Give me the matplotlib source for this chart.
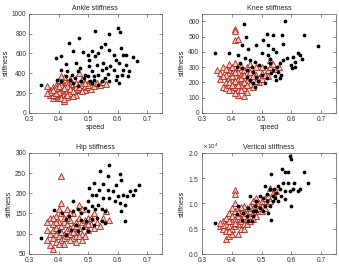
import numpy as np
import matplotlib
matplotlib.use("Agg")
from matplotlib import pyplot as plt

plt.rcParams['font.family'] = ['Liberation Sans', 'DejaVu Sans']

# Ankle stiffness
ankle_black_x = [0.34, 0.39, 0.41, 0.436, 0.47, 0.525, 0.572, 0.602, 0.607, 0.448, 0.483, 0.424, 0.407, 0.43,
                 0.459, 0.474, 0.502, 0.512, 0.535, 0.544, 0.558, 0.57, 0.587, 0.61, 0.595, 0.63, 0.651, 0.667,
                 0.63, 0.64, 0.62, 0.605, 0.606, 0.599, 0.502, 0.512, 0.53, 0.546, 0.56, 0.567, 0.535, 0.521,
                 0.546, 0.558, 0.57, 0.535, 0.5, 0.486, 0.512, 0.477, 0.456, 0.44, 0.424, 0.447, 0.41, 0.465,
                 0.448, 0.506, 0.576, 0.587, 0.525, 0.5, 0.49, 0.52, 0.552, 0.465, 0.395, 0.593, 0.614, 0.636, 0.619]
ankle_black_y = [285, 554, 577, 705, 755, 822, 799, 856, 812, 621, 614, 493, 436, 419,
                 503, 453, 537, 627, 604, 661, 695, 637, 580, 654, 537, 587, 564, 520,
                 487, 419, 436, 503, 302, 376, 470, 419, 487, 436, 453, 396, 386, 336,
                 319, 352, 319, 285, 369, 352, 302, 319, 352, 329, 369, 386, 319, 268,
                 302, 319, 470, 436, 570, 587, 386, 376, 503, 419, 336, 336, 386, 369, 587]
ankle_red_x = [0.36, 0.37, 0.37, 0.38, 0.38, 0.38, 0.39, 0.39, 0.39, 0.40, 0.40, 0.40, 0.40, 0.41, 0.41, 0.41,
               0.41, 0.42, 0.42, 0.42, 0.42, 0.42, 0.43, 0.43, 0.43, 0.43, 0.44, 0.44, 0.44, 0.44, 0.45, 0.45,
               0.45, 0.46, 0.46, 0.46, 0.47, 0.47, 0.47, 0.48, 0.48, 0.48, 0.49, 0.49, 0.50, 0.50, 0.51, 0.51,
               0.52, 0.52, 0.53, 0.54, 0.55, 0.56, 0.41, 0.40, 0.39, 0.38, 0.37, 0.43, 0.44, 0.36, 0.40, 0.42,
               0.45, 0.46, 0.41, 0.43, 0.39, 0.42, 0.44, 0.47, 0.48, 0.50, 0.49, 0.41, 0.40, 0.38, 0.43, 0.45]
ankle_red_y = [270, 230, 180, 200, 260, 150, 220, 170, 280, 190, 240, 300, 150, 210, 260, 330,
               170, 120, 230, 190, 280, 360, 200, 250, 160, 310, 220, 180, 270, 340, 200, 240,
               290, 230, 180, 260, 240, 300, 400, 250, 280, 340, 230, 270, 260, 300, 240, 280,
               270, 310, 300, 280, 310, 290, 150, 210, 250, 180, 210, 225, 200, 200, 330, 140,
               170, 300, 280, 270, 200, 250, 240, 260, 220, 280, 300, 370, 270, 230, 180, 220]

# Knee stiffness
knee_black_x = [0.344, 0.392, 0.441, 0.58, 0.517, 0.537, 0.57, 0.642, 0.689, 0.447, 0.506, 0.572, 0.433, 0.455,
                0.483, 0.523, 0.539, 0.55, 0.52, 0.528, 0.503, 0.586, 0.605, 0.622, 0.628, 0.614, 0.637, 0.6,
                0.603, 0.611, 0.572, 0.561, 0.553, 0.539, 0.528, 0.511, 0.492, 0.478, 0.461, 0.444, 0.428,
                0.417, 0.433, 0.45, 0.472, 0.483, 0.5, 0.517, 0.533, 0.544, 0.55, 0.561, 0.567, 0.556, 0.472,
                0.461, 0.489, 0.45, 0.478, 0.511, 0.467, 0.422]
knee_black_y = [390, 396, 580, 600, 520, 513, 509, 513, 437, 498, 476, 455, 444, 422,
                444, 444, 416, 400, 379, 351, 390, 357, 368, 394, 379, 336, 351, 314,
                292, 303, 347, 329, 303, 282, 325, 303, 314, 336, 347, 357, 329,
                303, 292, 282, 271, 234, 249, 227, 260, 243, 217, 227, 249, 271, 195,
                217, 206, 238, 169, 195, 303, 379]
knee_red_x = [0.41, 0.41, 0.41, 0.42, 0.35, 0.36, 0.37, 0.37, 0.38, 0.38, 0.38, 0.39, 0.39, 0.39, 0.39, 0.40,
              0.40, 0.40, 0.40, 0.41, 0.41, 0.41, 0.41, 0.42, 0.42, 0.42, 0.42, 0.43, 0.43, 0.43, 0.43, 0.44,
              0.44, 0.44, 0.44, 0.45, 0.45, 0.45, 0.45, 0.46, 0.46, 0.46, 0.47, 0.47, 0.47, 0.48, 0.48, 0.49,
              0.49, 0.50, 0.50, 0.51, 0.52, 0.52, 0.53, 0.53, 0.54, 0.55, 0.56, 0.36, 0.38, 0.40, 0.41, 0.42,
              0.43, 0.44, 0.45, 0.46, 0.39, 0.40, 0.37, 0.41, 0.42, 0.43, 0.48, 0.50, 0.44, 0.47, 0.39, 0.41]
knee_red_y = [550, 540, 480, 485, 280, 220, 170, 300, 250, 200, 160, 230, 280, 180, 320, 260,
              210, 150, 300, 240, 190, 170, 330, 270, 220, 150, 120, 250, 200, 310, 180, 230,
              280, 160, 110, 260, 210, 300, 140, 240, 190, 320, 270, 220, 170, 250, 300, 230,
              200, 260, 220, 250, 280, 240, 350, 300, 320, 290, 300, 260, 290, 240, 210, 180,
              230, 200, 180, 270, 200, 180, 240, 270, 300, 150, 210, 300, 250, 240, 150, 130]

# Hip stiffness
hip_black_x = [0.34, 0.386, 0.448, 0.502, 0.521, 0.541, 0.572, 0.567, 0.607, 0.613, 0.671, 0.595, 0.642, 0.659,
               0.653, 0.633, 0.619, 0.601, 0.584, 0.567, 0.549, 0.537, 0.526, 0.514, 0.549, 0.572, 0.59, 0.607,
               0.624, 0.613, 0.624, 0.5, 0.512, 0.524, 0.535, 0.547, 0.558, 0.5, 0.488, 0.477, 0.465, 0.448,
               0.436, 0.424, 0.413, 0.477, 0.494, 0.512, 0.529, 0.547, 0.558, 0.459, 0.442, 0.483, 0.519,
               0.401, 0.424, 0.5, 0.465]
hip_black_y = [89, 158, 182, 212, 226, 255, 271, 243, 249, 234, 220, 220, 206, 209,
               197, 193, 197, 193, 205, 209, 222, 209, 197, 197, 189, 189, 180, 176,
               170, 155, 131, 180, 168, 162, 172, 160, 155, 155, 164, 152, 160, 155,
               143, 137, 150, 135, 131, 137, 139, 132, 126, 122, 110, 114, 122,
               107, 97, 106, 106]
hip_red_x = [0.41, 0.38, 0.37, 0.36, 0.36, 0.37, 0.37, 0.38, 0.38, 0.38, 0.39, 0.39, 0.39, 0.39, 0.40, 0.40,
             0.40, 0.40, 0.41, 0.41, 0.41, 0.41, 0.42, 0.42, 0.42, 0.42, 0.43, 0.43, 0.43, 0.43, 0.44, 0.44,
             0.44, 0.45, 0.45, 0.45, 0.46, 0.46, 0.46, 0.47, 0.47, 0.47, 0.48, 0.48, 0.48, 0.49, 0.49, 0.50,
             0.50, 0.51, 0.52, 0.52, 0.53, 0.54, 0.55, 0.56, 0.57, 0.46, 0.44, 0.42, 0.40, 0.39, 0.41, 0.43,
             0.45, 0.47, 0.49, 0.51, 0.38, 0.36, 0.44, 0.46, 0.48, 0.50]
hip_red_y = [243, 62, 72, 85, 130, 100, 140, 110, 90, 125, 100, 145, 80, 115, 95, 130,
             160, 110, 85, 120, 150, 175, 100, 130, 90, 140, 110, 95, 125, 160, 100, 135,
             115, 90, 120, 150, 105, 130, 95, 115, 170, 140, 100, 130, 160, 120, 95, 140,
             110, 125, 115, 150, 130, 120, 140, 155, 135, 80, 85, 75, 75, 130, 105, 140,
             105, 95, 135, 140, 140, 110, 150, 120, 85, 125]

# Vertical stiffness (x 10^4)
vert_black_x = [0.344, 0.42, 0.511, 0.533, 0.541, 0.57, 0.578, 0.589, 0.594, 0.6, 0.641, 0.656, 0.556, 0.572,
                0.589, 0.608, 0.606, 0.622, 0.628, 0.594, 0.578, 0.561, 0.528, 0.517, 0.539, 0.55, 0.567,
                0.578, 0.556, 0.539, 0.517, 0.506, 0.494, 0.483, 0.478, 0.494, 0.511, 0.528, 0.506, 0.472,
                0.456, 0.439, 0.461, 0.472, 0.45, 0.433, 0.467, 0.533, 0.6, 0.483, 0.456, 0.522, 0.544, 0.417]
vert_black_y = [0.613, 0.947, 1.347, 1.58, 1.28, 1.68, 1.63, 1.613, 1.947, 1.88, 1.613, 1.413, 1.347, 1.413,
                1.413, 1.413, 1.28, 1.247, 1.28, 1.247, 1.247, 1.28, 1.28, 1.18, 1.147, 1.213, 1.147,
                1.08, 1.047, 1.047, 1.047, 1.113, 1.147, 1.047, 0.947, 0.913, 0.947, 0.947, 0.847, 0.847,
                0.913, 0.813, 1.147, 0.747, 0.747, 0.68, 0.647, 0.68, 0.947, 0.847, 0.647, 0.813, 1.113, 0.78]
vert_red_x = [0.41, 0.41, 0.38, 0.39, 0.36, 0.37, 0.37, 0.38, 0.38, 0.38, 0.39, 0.39, 0.40, 0.40, 0.40, 0.40,
              0.41, 0.41, 0.41, 0.41, 0.42, 0.42, 0.42, 0.42, 0.43, 0.43, 0.43, 0.44, 0.44, 0.44, 0.45, 0.45,
              0.45, 0.46, 0.46, 0.46, 0.47, 0.47, 0.47, 0.48, 0.48, 0.48, 0.49, 0.49, 0.50, 0.50, 0.51, 0.51,
              0.52, 0.52, 0.53, 0.53, 0.54, 0.55, 0.43, 0.40, 0.39, 0.37, 0.44, 0.45, 0.42, 0.41, 0.46, 0.48,
              0.50, 0.47, 0.43, 0.39, 0.44, 0.36]
vert_red_y = [1.27, 1.18, 0.30, 0.35, 0.55, 0.50, 0.65, 0.45, 0.60, 0.72, 0.55, 0.80, 0.50, 0.65, 0.75, 0.90,
              0.55, 0.70, 0.85, 1.00, 0.60, 0.75, 0.40, 0.90, 0.65, 0.80, 0.70, 0.75, 0.85, 0.60, 0.70, 0.90,
              0.80, 0.75, 0.95, 0.85, 0.90, 1.05, 0.80, 0.95, 1.10, 0.85, 1.00, 0.90, 1.05, 0.95, 1.10, 0.90,
              1.15, 1.00, 1.30, 1.05, 1.20, 1.25, 0.50, 0.40, 0.65, 0.58, 0.95, 0.60, 0.82, 0.62, 0.65, 0.75,
              0.85, 0.70, 0.92, 0.45, 0.50, 0.62]

x_ticks = [0.3, 0.4, 0.5, 0.6, 0.7]

fig = plt.figure(figsize=(3.39, 2.65), dpi=100)
fig.patch.set_facecolor("white")

panels = [
    ([0.0855, 0.574, 0.392, 0.374], "Ankle stiffness", ankle_black_x, ankle_black_y, ankle_red_x, ankle_red_y,
     (0, 1000), [0, 200, 400, 600, 800, 1000], True),
    ([0.596, 0.574, 0.395, 0.374], "Knee stiffness", knee_black_x, knee_black_y, knee_red_x, knee_red_y,
     (0, 650), [0, 100, 200, 300, 400, 500, 600], True),
    ([0.0855, 0.042, 0.392, 0.381], "Hip stiffness", hip_black_x, hip_black_y, hip_red_x, hip_red_y,
     (50, 300), [50, 100, 150, 200, 250, 300], False),
    ([0.596, 0.042, 0.395, 0.381], "Vertical stiffness", vert_black_x, np.array(vert_black_y) * 1e4,
     vert_red_x, np.array(vert_red_y) * 1e4, (0, 2e4), [0, 5000, 10000, 15000, 20000], False),
]

for rect, title, bx, by, rx, ry, ylim, yticks, show_xlabel in panels:
    ax = fig.add_axes(rect)
    ax.plot(bx, by, '.', color="black", markersize=3.4, zorder=3)
    ax.plot(rx, ry, '^', markerfacecolor="#f2d0c8", markeredgecolor="#b02418",
            markeredgewidth=0.6, markersize=3.8, zorder=2)
    ax.set_xlim(0.3, 0.75)
    ax.set_ylim(*ylim)
    ax.set_xticks(x_ticks)
    ax.set_yticks(yticks)
    ax.tick_params(direction="in", length=2, width=0.4, labelsize=4.8,
                   top=True, right=True, colors="#333333")
    ax.tick_params(axis="x", pad=2.5)
    ax.tick_params(axis="y", pad=2)
    for s in ax.spines.values():
        s.set_linewidth(0.5)
        s.set_color("#555555")
    ax.set_title(title, fontsize=5, pad=2.5, color="#222222")
    ax.set_ylabel("stiffness", fontsize=5, labelpad=1.5, color="#222222")
    if show_xlabel:
        ax.set_xlabel("speed", fontsize=5, labelpad=0.3, color="#222222")
    if title == "Vertical stiffness":
        ax.ticklabel_format(axis="y", style="sci", scilimits=(4, 4), useMathText=True)
        ax.yaxis.get_offset_text().set_fontsize(4.5)

fig.savefig("out.png", dpi=100)
